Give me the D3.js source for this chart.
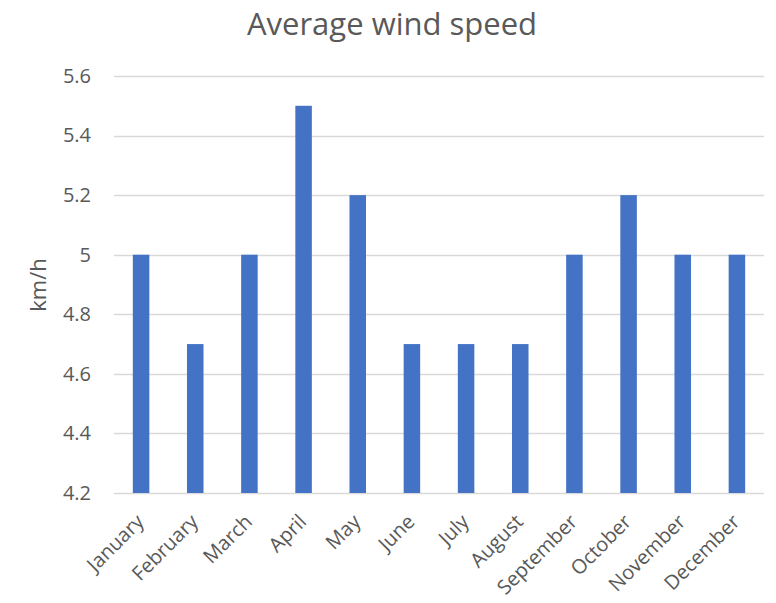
<!DOCTYPE html>
<html>
<head>
<meta charset="utf-8">
<script src="https://cdn.jsdelivr.net/npm/d3@7"></script>
<style>
  html, body { margin: 0; padding: 0; background: #fff; }
  svg text { font-family: "Open Sans", sans-serif; fill: #595959; }
</style>
</head>
<body>
<svg id="chart" width="776" height="603"></svg>
<script>
// Monthly average wind speed (km/h)
const months = ["January", "February", "March", "April", "May", "June",
                "July", "August", "September", "October", "November", "December"];
const windSpeed = [5.0, 4.7, 5.0, 5.5, 5.2, 4.7, 4.7, 4.7, 5.0, 5.2, 5.0, 5.0];
const yTicks = [4.2, 4.4, 4.6, 4.8, 5.0, 5.2, 5.4, 5.6];

const svg = d3.select("#chart");
const margin = { top: 76, right: 12, bottom: 110, left: 114 };
const width = 776, height = 603;

const x = d3.scaleBand()
  .domain(months)
  .range([margin.left, width - margin.right])
  .paddingInner(0.695)
  .paddingOuter(0.3475);

const y = d3.scaleLinear()
  .domain([4.2, 5.6])
  .range([height - margin.bottom, margin.top]);

// Horizontal gridlines
svg.append("g")
  .selectAll("line")
  .data(yTicks)
  .join("line")
  .attr("x1", margin.left)
  .attr("x2", width - margin.right)
  .attr("y1", d => Math.round(y(d)) + 0.5)
  .attr("y2", d => Math.round(y(d)) + 0.5)
  .attr("stroke", "#d9d9d9")
  .attr("stroke-width", 1.5);

// Y axis labels
const yAxis = d3.axisLeft(y)
  .tickValues(yTicks)
  .tickFormat(d => d3.format("~g")(d))
  .tickSize(0)
  .tickPadding(23);
const gy = svg.append("g")
  .attr("transform", `translate(${margin.left},0)`)
  .call(yAxis);
gy.select(".domain").remove();
gy.selectAll("text").attr("font-size", 20).style("fill", "#595959");

// Bars
svg.append("g")
  .selectAll("rect")
  .data(months.map((m, i) => ({ month: m, value: windSpeed[i] })))
  .join("rect")
  .attr("x", d => x(d.month))
  .attr("width", x.bandwidth())
  .attr("y", d => y(d.value))
  .attr("height", d => y(4.2) - y(d.value))
  .attr("fill", "#4472c4");

// X axis labels, rotated 45°
const xAxis = d3.axisBottom(x).tickSize(0).tickPadding(0);
const gx = svg.append("g")
  .attr("transform", `translate(0,${height - margin.bottom})`)
  .call(xAxis);
gx.select(".domain").remove();
gx.selectAll("text")
  .attr("font-size", 20)
  .style("fill", "#595959")
  .attr("text-anchor", "end")
  .attr("dy", 0)
  .attr("transform", "translate(4,30) rotate(-45)");

// Title
svg.append("text")
  .attr("x", 392)
  .attr("y", 35)
  .attr("text-anchor", "middle")
  .attr("font-size", 31)
  .text("Average wind speed");

// Y axis title
svg.append("text")
  .attr("transform", `translate(46,285) rotate(-90)`)
  .attr("text-anchor", "middle")
  .attr("font-size", 22)
  .text("km/h");
</script>
</body>
</html>
